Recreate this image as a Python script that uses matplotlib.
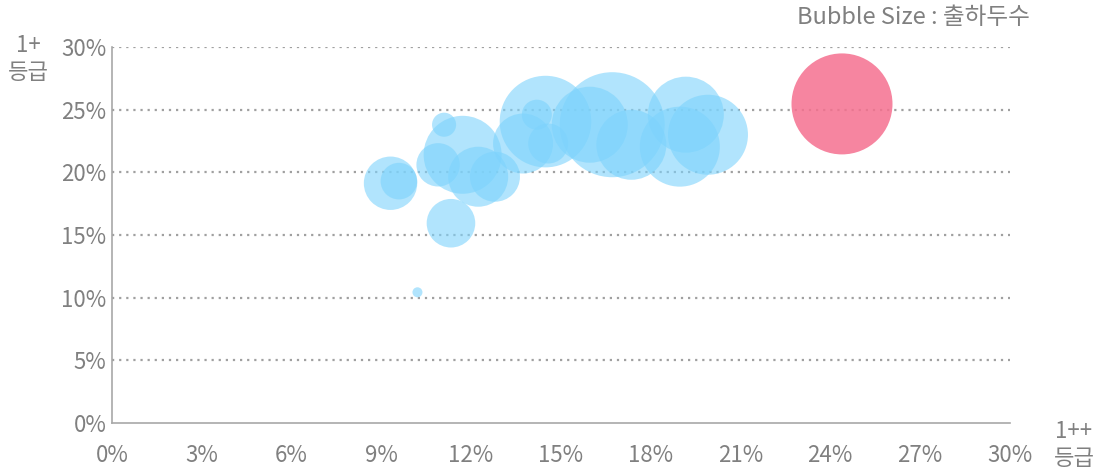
import matplotlib
matplotlib.use("Agg")
import matplotlib.pyplot as plt
from matplotlib.ticker import FuncFormatter

plt.rcParams["font.family"] = ["Noto Sans CJK KR", "DejaVu Sans"]

# ── Data ──────────────────────────────────────────────────────────────────────
# x: 1++ 등급 비율(%), y: 1+ 등급 비율(%), heads: 출하두수 (bubble size)
x_pct = [9.31, 9.59, 11.33, 11.10, 11.72, 10.90, 12.24, 12.80, 13.74,
         14.49, 14.20, 14.58, 16.72, 15.97, 17.36, 19.18, 19.92, 18.98, 10.21]
y_pct = [19.13, 19.30, 15.94, 23.80, 21.40, 20.60, 19.65, 19.65, 22.30,
         24.05, 24.60, 22.30, 23.80, 23.80, 22.20, 24.60, 23.00, 22.05, 10.43]
heads = [2850, 1340, 2360, 580, 6080, 1880, 3600, 2500, 3600,
         8390, 900, 1600, 11030, 5780, 4900, 5780, 6400, 6400, 100]

hl_x = [24.40]
hl_y = [25.46]
hl_heads = [10200]

x_ticks = [0, 3, 6, 9, 12, 15, 18, 21, 24, 27, 30]
y_ticks = [0, 5, 10, 15, 20, 25, 30]

SIZE_SCALE = 0.5184   # heads -> marker area (pt^2)
GRAY = "#808080"
FS = 16

# ── Plot ──────────────────────────────────────────────────────────────────────
fig = plt.figure(figsize=(10.99, 4.72), dpi=100)
ax = fig.add_axes([0.1019, 0.1038, 0.8167, 0.7966])

ax.scatter(x_pct, y_pct, s=[h * SIZE_SCALE for h in heads],
           color="#7dd3fc", alpha=0.6, edgecolors="none", zorder=3)
ax.scatter(hl_x, hl_y, s=[h * SIZE_SCALE for h in hl_heads],
           color="#f5708f", alpha=0.85, edgecolors="none", zorder=3)

ax.set_xlim(0, 30)
ax.set_ylim(0, 30)
ax.set_xticks(x_ticks)
ax.set_yticks(y_ticks)
pct = FuncFormatter(lambda v, _: f"{v:.0f}%")
ax.xaxis.set_major_formatter(pct)
ax.yaxis.set_major_formatter(pct)
ax.tick_params(length=0, labelsize=FS, labelcolor=GRAY)
ax.tick_params(axis="x", pad=15)
ax.tick_params(axis="y", pad=4)
for lbl in ax.get_xticklabels() + ax.get_yticklabels():
    lbl.set_fontweight("light")

for yv in y_ticks[1:]:
    ax.axhline(yv, color="#a0a0a0", linestyle=(0, (1, 2.2)), linewidth=1.6, zorder=1)

for side in ["top", "right"]:
    ax.spines[side].set_visible(False)
for side in ["left", "bottom"]:
    ax.spines[side].set_color("#a8a8a8")
    ax.spines[side].set_linewidth(1.2)

fig.text(28 / 1099, 1 - 59 / 472, "1+\n등급", ha="center", va="center",
         fontsize=FS, color=GRAY, linespacing=1.2, fontweight="light")
fig.text(1074 / 1099, 1 - 445 / 472, "1++\n등급", ha="center", va="center",
         fontsize=FS, color=GRAY, linespacing=1.2, fontweight="light")
fig.text(1030 / 1099, 1 - 18 / 472, "Bubble Size : 출하두수", ha="right",
         va="center", fontsize=17, color=GRAY, fontweight="light")

plt.savefig("out.png", dpi=100)
plt.close()
